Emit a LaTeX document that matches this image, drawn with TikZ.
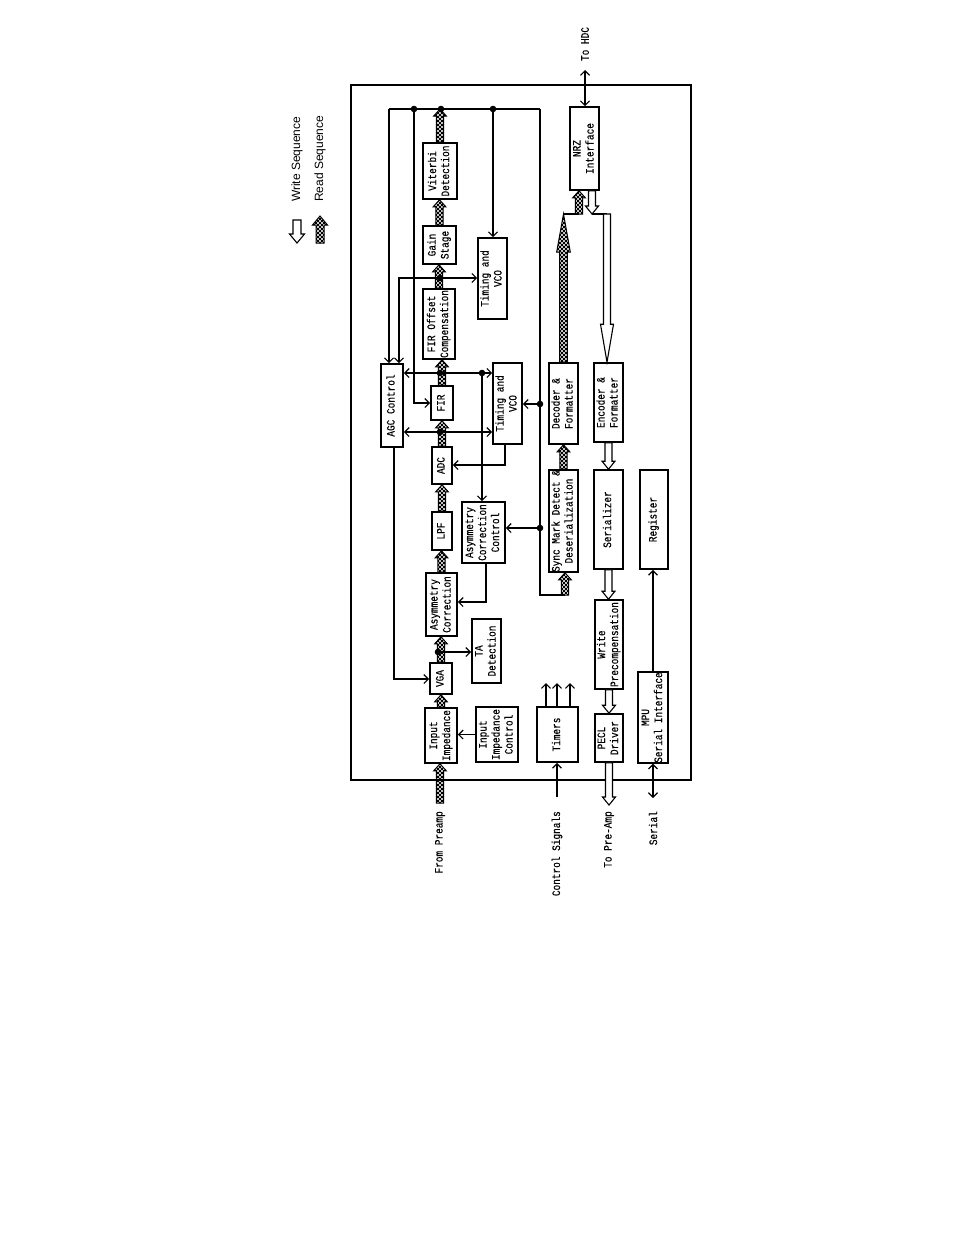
\documentclass[tikz,border=0pt]{standalone}
\usepackage{fontspec}
\usepackage{graphicx}
\setmainfont{Liberation Mono}[FakeStretch=0.82,FakeBold=0.3]
\newfontfamily\legfont{Liberation Sans}
\usetikzlibrary{calc,patterns,arrows.meta}
\pgfdeclarepatternformonly{xhatch}{\pgfpoint{-0.5pt}{-0.5pt}}{\pgfpoint{4.5pt}{4.5pt}}{\pgfpoint{4pt}{4pt}}{%
  \pgfsetlinewidth{0.8pt}%
  \pgfpathmoveto{\pgfpoint{0pt}{0pt}}\pgfpathlineto{\pgfpoint{4pt}{4pt}}%
  \pgfpathmoveto{\pgfpoint{0pt}{4pt}}\pgfpathlineto{\pgfpoint{4pt}{0pt}}%
  \pgfusepath{stroke}}
\newcommand\vt[1]{\rotatebox{90}{\begin{tabular}{@{}c@{}}#1\end{tabular}}}
\newcommand\fatup[6]{\path[#1] let \p1=(#2), \p2=(#3) in (\x1-#4,\y1) -- (\x1-#4,\y2-#6) -- (\x1-#5,\y2-#6) -- (\x1,\y2) -- (\x1+#5,\y2-#6) -- (\x1+#4,\y2-#6) -- (\x1+#4,\y1) -- cycle;}
\newcommand\fatdown[6]{\path[#1] let \p1=(#2), \p2=(#3) in (\x1-#4,\y1) -- (\x1-#4,\y2+#6) -- (\x1-#5,\y2+#6) -- (\x1,\y2) -- (\x1+#5,\y2+#6) -- (\x1+#4,\y2+#6) -- (\x1+#4,\y1) -- cycle;}
\tikzset{
  box/.style={draw, line width=1.6pt, inner sep=0pt, font={\fontsize{11.5}{13}\selectfont}},
  conn/.style={line width=1.2pt, >={Straight Barb[length=4.5pt,width=9pt]}},
  readfat/.style={draw, line width=1pt, pattern=xhatch},
  writefat/.style={draw, line width=1.1pt, fill=white},
  lbl/.style={inner sep=0pt, font={\fontsize{11.5}{13}\selectfont}},
  legend/.style={inner sep=0pt, font={\legfont\fontsize{12}{14}\selectfont}},
  dot/.style={fill=black}
}
\begin{document}
\begin{tikzpicture}[x=1pt,y=-1pt]
\useasboundingbox (0,0) rectangle (954,1235);
\fill[white] (0,0) rectangle (954,1235);
% frame
\draw[line width=1.6pt] (351,85) rectangle (691,780);
% boxes
\node[box, minimum width=34pt, minimum height=56pt] (viterbi) at (440,171) {\vt{Viterbi\\Detection}};
\node[box, minimum width=33pt, minimum height=38pt] (gain) at (439.5,245) {\vt{Gain\\Stage}};
\node[box, minimum width=29pt, minimum height=81pt] (tvco1) at (492.5,278.5) {\vt{Timing and\\VCO}};
\node[box, minimum width=32pt, minimum height=70pt] (firoff) at (439,324) {\vt{FIR Offset\\Compensation}};
\node[box, minimum width=29pt, minimum height=83pt] (nrz) at (584.5,148.5) {\vt{NRZ\\Interface}};
\node[box, minimum width=22pt, minimum height=83pt] (agc) at (392,405.5) {\vt{AGC Control}};
\node[box, minimum width=22pt, minimum height=34pt] (fir) at (442,403) {\vt{FIR}};
\node[box, minimum width=29pt, minimum height=81pt] (tvco2) at (507.5,403.5) {\vt{Timing and\\VCO}};
\node[box, minimum width=20pt, minimum height=37pt] (adc) at (442,465.5) {\vt{ADC}};
\node[box, minimum width=20pt, minimum height=38pt] (lpf) at (442,531) {\vt{LPF}};
\node[box, minimum width=43pt, minimum height=61pt] (acc) at (483.5,532.5) {\vt{Asymmetry\\Correction\\Control}};
\node[box, minimum width=29pt, minimum height=81pt] (dec) at (563.5,403.5) {\vt{Decoder \&\\Formatter}};
\node[box, minimum width=29pt, minimum height=102pt] (sync) at (563.5,521) {\vt{Sync Mark Detect \&\\Deserialization}};
\node[box, minimum width=29pt, minimum height=79pt] (enc) at (608.5,402.5) {\vt{Encoder \&\\Formatter}};
\node[box, minimum width=29pt, minimum height=99pt] (ser) at (608.5,519.5) {\vt{Serializer}};
\node[box, minimum width=28pt, minimum height=99pt] (reg) at (654,519.5) {\vt{Register}};
\node[box, minimum width=31pt, minimum height=63pt] (asym) at (441.5,604.5) {\vt{Asymmetry\\Correction}};
\node[box, minimum width=29pt, minimum height=64pt] (ta) at (486.5,651) {\vt{TA\\Detection}};
\node[box, minimum width=28pt, minimum height=89pt] (wpc) at (609,644.5) {\vt{Write\\Precompensation}};
\node[box, minimum width=22pt, minimum height=31pt] (vga) at (441,678.5) {\vt{VGA}};
\node[box, minimum width=32pt, minimum height=55pt] (ii) at (441,735.5) {\vt{Input\\Impedance}};
\node[box, minimum width=42pt, minimum height=55pt] (iic) at (497,734.5) {\vt{Input\\Impedance\\Control}};
\node[box, minimum width=41pt, minimum height=55pt] (timers) at (557.5,734.5) {\vt{Timers}};
\node[box, minimum width=28pt, minimum height=48pt] (pecl) at (609,738) {\vt{PECL\\Driver}};
\node[box, minimum width=30pt, minimum height=89pt] (mpu) at (653,717.5) {\vt{MPU\\Serial Interface}};
% coordinates
\coordinate (busL) at (389,109);
\coordinate (busR) at (540,109);
\coordinate (d1) at (414,109);
\coordinate (d2) at (441,109);
\coordinate (d3) at (493,109);
\coordinate (busB) at (540,595);
\coordinate (syncIn) at (565,595);
\coordinate (j1) at (440,278);
\coordinate (j1L) at (399,278);
\coordinate (j2) at (440,373);
\coordinate (j3) at (482,373);
\coordinate (j4) at (440,432);
\coordinate (da) at (540,404);
\coordinate (db) at (540,528);
\coordinate (tvB) at (505,465);
\coordinate (accB) at (486,602);
\coordinate (agcB) at (394,679);
\coordinate (j5) at (438,652);
\coordinate (hdc) at (585,70);
\coordinate (rdJ) at (563,214);
\coordinate (nrzR) at (579,214);
\coordinate (nrzW) at (592,214);
\coordinate (encW) at (607,214);
\coordinate (pre) at (440,803);
\coordinate (ctl) at (557,797);
\coordinate (pa) at (609,805);
\coordinate (serial) at (653,798);
\coordinate (t1) at (546,683);
\coordinate (t2) at (557,683);
\coordinate (t3) at (570,683);
% thin connectors
\draw[conn] (busR) -- (busL);
\draw[conn,->] (busL) -- (busL |- agc.north);
\draw[conn,->] (d1) |- (fir.west);
\draw[conn,->] (d3) -- (d3 |- tvco1.north);
\draw[conn] (busR) -- (busB) -- (syncIn);
\draw[conn,->] (j1) -- (j1 -| tvco1.west);
\draw[conn,->] (j1) -- (j1L) -- (j1L |- agc.north);
\draw[conn,->] (j2) -- (j2 -| agc.east);
\draw[conn,->] (j2) -- (j2 -| tvco2.west);
\draw[conn,->] (j3) -- (j3 |- acc.north);
\draw[conn,->] (j4) -- (j4 -| agc.east);
\draw[conn,->] (j4) -- (j4 -| tvco2.west);
\draw[conn,->] (tvB |- tvco2.south) -- (tvB) -- (tvB -| adc.east);
\draw[conn,->] (da) -- (da -| tvco2.east);
\draw[conn,->] (db) -- (db -| acc.east);
\draw[conn,->] (accB |- acc.south) -- (accB) -- (accB -| asym.east);
\draw[conn,->] (agcB |- agc.south) -- (agcB) -- (agcB -| vga.west);
\draw[conn,->] (j5) -- (j5 -| ta.west);
\draw[conn,->] (iic.west) -- (iic.west -| ii.east);
\draw[conn,->] (t1 |- timers.north) -- (t1);
\draw[conn,->] (t2 |- timers.north) -- (t2);
\draw[conn,->] (t3 |- timers.north) -- (t3);
\draw[conn,->] (ctl) -- (ctl |- timers.south);
\draw[conn,->] (mpu.north) -- (mpu.north |- reg.south);
\draw[conn,<->] (serial |- mpu.south) -- (serial);
\draw[conn,<->] (hdc) -- (hdc |- nrz.north);
\draw[conn] (rdJ) -- (nrzR);
\draw[conn] (nrzW) -- (encW);
% read (hatched) arrows
\fatup{readfat}{pre}{ii.south}{3.7pt}{6.3pt}{7pt}
\fatup{readfat}{ii.north}{vga.south}{3.7pt}{6.3pt}{7pt}
\fatup{readfat}{vga.north}{asym.south}{3.7pt}{6.3pt}{7pt}
\fatup{readfat}{asym.north}{lpf.south}{3.7pt}{6.3pt}{7pt}
\fatup{readfat}{lpf.north}{adc.south}{3.7pt}{6.3pt}{7pt}
\fatup{readfat}{adc.north}{fir.south}{3.7pt}{6.3pt}{7pt}
\fatup{readfat}{fir.north}{firoff.south}{3.7pt}{6.3pt}{7pt}
\fatup{readfat}{firoff.north}{gain.south}{3.7pt}{6.3pt}{7pt}
\fatup{readfat}{gain.north}{viterbi.south}{3.7pt}{6.3pt}{7pt}
\fatup{readfat}{viterbi.north}{d2}{3.7pt}{6.3pt}{7pt}
\fatup{readfat}{sync.north}{dec.south}{3.7pt}{6.3pt}{7pt}
\fatup{readfat}{syncIn}{sync.south}{3.7pt}{6.3pt}{7pt}
\fatup{readfat}{dec.north}{rdJ}{3.8pt}{6.8pt}{38pt}
\fatup{readfat}{nrzR}{nrz.south}{3.7pt}{6.3pt}{7pt}
% write (hollow) arrows
\fatdown{writefat}{nrzW |- nrz.south}{nrzW}{3.5pt}{6.5pt}{8pt}
\fatdown{writefat}{encW}{enc.north}{3.5pt}{6.5pt}{38pt}
\fatdown{writefat}{enc.south}{ser.north}{3.5pt}{6.5pt}{8pt}
\fatdown{writefat}{ser.south}{wpc.north}{3.5pt}{6.5pt}{8pt}
\fatdown{writefat}{wpc.south}{pecl.north}{3.5pt}{6.5pt}{8pt}
\fatdown{writefat}{pecl.south}{pa}{3.5pt}{6.5pt}{8pt}
% dots
\foreach \c in {d1,d2,d3,j1,j2,j3,j4,da,db,j5} \fill[dot] (\c) circle (3.3pt);
% labels
\node[lbl] (lhdc) at (585,44) {\rotatebox{90}{To HDC}};
\node[lbl, anchor=north] (lpre) at (440,811) {\rotatebox{90}{From Preamp}};
\node[lbl, anchor=north] (lctl) at (557,811) {\rotatebox{90}{Control Signals}};
\node[lbl, anchor=north] (lpa) at (609,811) {\rotatebox{90}{To Pre-Amp}};
\node[lbl, anchor=north] (lser) at (653,811) {\rotatebox{90}{Serial}};
% legend
\coordinate (lw1) at (297,220);
\coordinate (lw2) at (297,243);
\coordinate (lr1) at (320,243);
\coordinate (lr2) at (320,216);
\fatdown{writefat}{lw1}{lw2}{4pt}{7.5pt}{9pt}
\fatup{readfat}{lr1}{lr2}{4pt}{7.5pt}{9pt}
\node[legend, anchor=south] (lgw) at (297,202) {\rotatebox{90}{Write Sequence}};
\node[legend, anchor=south] (lgr) at (320,202) {\rotatebox{90}{Read Sequence}};
\end{tikzpicture}
\end{document}
